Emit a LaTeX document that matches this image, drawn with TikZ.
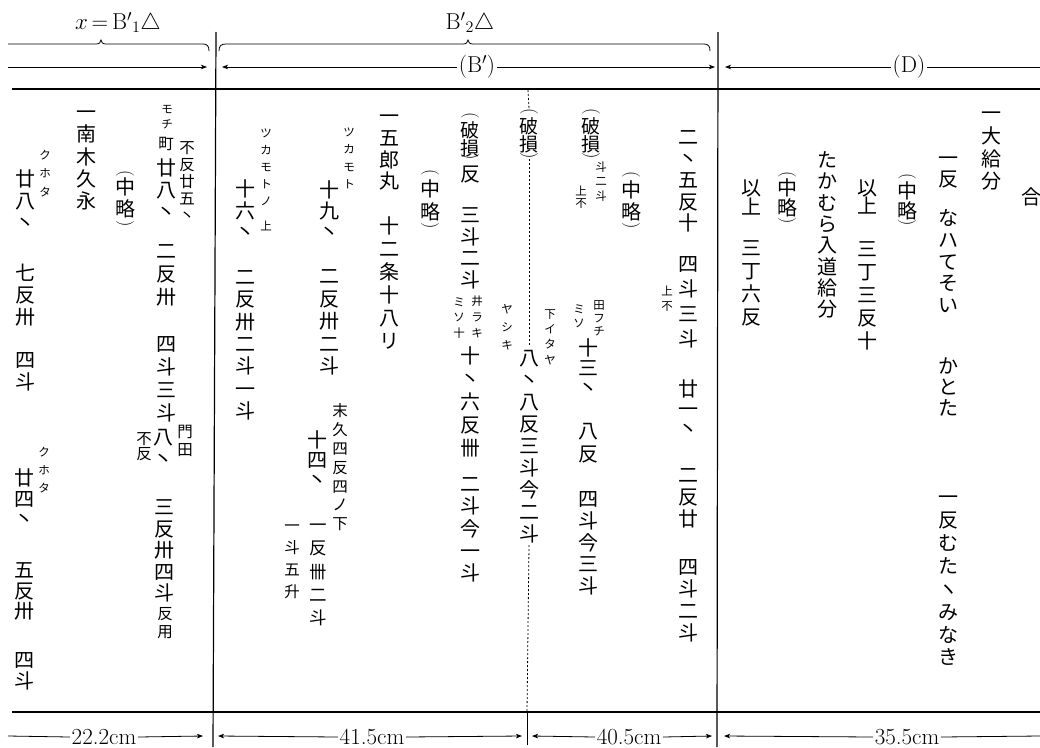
\RequirePackage{fix-cm}
\documentclass[tikz,border=0pt]{standalone}
\usepackage{fontspec}
\newfontfamily\cjk{Noto Sans CJK JP}
\usetikzlibrary{arrows.meta}
\newlength\vtp \newlength\vtf
\def\vtstop{\vtstop}
\def\vtloop#1{\ifx#1\vtstop\else\hbox to\vtf{\hss\smash{#1}\hss}\kern\vtp\expandafter\vtloop\fi}
\newcommand\vstack[3]{\vtf=#1pt\relax\vtp=#2pt\relax\vbox{\offinterlineskip\fontsize{#1}{#1}\selectfont\cjk\kern\dimexpr\vtp/2+0.38\vtf\relax\vtloop#3\vtstop\kern-\dimexpr\vtp/2+0.38\vtf\relax}}
\newcommand\vcol[6]{\node[vt] (#1) at (#2,{#3-#5/2}) {\vstack{#4}{#5}{#6}};}
\newcommand\vpo[3]{\node[par] (#1) at (#2,#3) {(};}
\newcommand\vpc[3]{\node[par] (#1) at (#2,#3) {)};}
\tikzset{
 vt/.style={anchor=north, inner sep=0pt, outer sep=0pt},
 par/.style={rotate=-90, inner sep=0pt, outer sep=0pt, font=\fontsize{18}{18}\selectfont},
 lab/.style={inner sep=1.5pt, font=\fontsize{23}{27}\selectfont},
 rule/.style={line width=1.2pt},
 arr/.style={line width=0.8pt, -{Stealth[length=6pt,width=4.5pt,inset=1.5pt]}},
 ln/.style={line width=0.8pt},
 brace/.style={line width=0.8pt},
 dot/.style={line width=0.8pt, dash pattern=on 2.2pt off 1.8pt},
}
\begin{document}
\begin{tikzpicture}[x=1pt,y=-1pt]
\useasboundingbox (0,0) rectangle (1040,747);
\fill[white] (0,0) rectangle (1040,747);
% ---- top braces and labels
\coordinate (b1L) at (8,44); \coordinate (b1R) at (209,51);
\draw[brace] (b1L) -- (96,44) .. controls (99.5,44) and (100.5,42.5) .. (101,40) .. controls (101.5,42.5) and (102.5,44) .. (106,44) -- (203,44) .. controls (207,44) and (209,46) .. (b1R);
\node[lab] (b1lab) at (118,23) {$x\,{=}\,\mathrm{B}'{}_{1}\triangle$};
\coordinate (b2L) at (219,51); \coordinate (b2R) at (710,51);
\draw[brace] (b2L) .. controls (219,46) and (221,44) .. (226,44) -- (463,44) .. controls (466.5,44) and (467.5,42.5) .. (468,40) .. controls (468.5,42.5) and (469.5,44) .. (473,44) -- (704,44) .. controls (708,44) and (710,46) .. (b2R);
\node[lab] (b2lab) at (470,23) {$\mathrm{B}'{}_{2}\triangle$};
% ---- top arrows
\coordinate (t1L) at (8,67); \coordinate (t1R) at (207,67);
\draw[arr] (t1L) -- (t1R);
\node[lab] (bp) at (477,67) {(B$'$)};
\coordinate (t2L) at (222,67); \coordinate (t2R) at (715,67);
\draw[arr] (bp.west) -- (t2L); \draw[arr] (bp.east) -- (t2R);
\node[lab] (dd) at (909,67) {(D)};
\coordinate (t3L) at (725,67); \coordinate (t3R) at (1040,67);
\draw[arr] (dd.west) -- (t3L); \draw[ln] (dd.east) -- (t3R);
% ---- rules
\coordinate (h1L) at (12,89); \coordinate (h1R) at (1040,89);
\draw[rule] (h1L) -- (h1R);
\coordinate (h2L) at (12,712); \coordinate (h2R) at (1040,712);
\draw[rule] (h2L) -- (h2R);
\coordinate (s1T) at (216,32); \coordinate (s1B) at (213,747);
\draw[rule] (s1T) -- (s1B);
\coordinate (s2T) at (718,32); \coordinate (s2B) at (717,747);
\draw[rule] (s2T) -- (s2B);
% ---- bottom arrows
\node[lab] (m1) at (104,737) {22.2cm};
\coordinate (e1L) at (8,736); \coordinate (e1R) at (203,736);
\draw[ln] (e1L) -- (m1.west); \draw[arr] (m1.east) -- (e1R);
\node[lab] (m2) at (372,737) {41.5cm};
\coordinate (e2L) at (218,736); \coordinate (e2R) at (522,736);
\draw[arr] (m2.west) -- (e2L); \draw[arr] (m2.east) -- (e2R);
\node[lab] (m3) at (629,737) {40.5cm};
\coordinate (e3L) at (532,736); \coordinate (e3R) at (712,736);
\draw[arr] (m3.west) -- (e3L); \draw[arr] (m3.east) -- (e3R);
\node[lab] (m4) at (907,737) {35.5cm};
\coordinate (e4L) at (724,736); \coordinate (e4R) at (1040,736);
\draw[arr] (m4.west) -- (e4L); \draw[ln] (m4.east) -- (e4R);
% ---- section x
\vcol{a1}{25}{179}{20}{22}{廿八丶}
\vcol{a2}{25}{273}{20}{22}{七反卅}
\vcol{a3}{25}{360}{20}{22}{四斗}
\vcol{a4}{45}{155}{11.5}{18.5}{クホタ}
\vcol{a5}{24}{478}{20}{20.5}{廿四丶}
\vcol{a6}{24}{570}{20}{20.5}{五反卅}
\vcol{a7}{24}{660}{20}{20.5}{四斗}
\vcol{a8}{44}{452}{11.5}{18}{クホタ}
\vcol{a9}{86}{112}{20}{22.3}{一南木久永}
\vpo{a10o}{125}{174} \vcol{a10}{125}{187}{20}{22}{中略} \vpc{a10c}{125}{224}
\vcol{a11}{167}{109}{11.5}{15}{モチ}
\vcol{a12}{166}{144}{15.5}{16}{町}
\vcol{a13}{187}{148}{15.5}{17}{不反廿五丶}
\vcol{a14}{166}{168}{20}{22}{廿八丶}
\vcol{a15}{166}{251}{20}{23}{二反卅}
\vcol{a16}{166}{344}{20}{23}{四斗三斗}
\vcol{a17}{163}{437}{20}{22}{八丶}
\vcol{a18}{185}{432}{15.5}{18}{門田}
\vcol{a19}{144}{439}{15.5}{15}{不反}
\vcol{a20}{164}{507}{20}{21.5}{三反卅四斗}
\vcol{a21}{165}{614}{15.5}{18}{反用}
% ---- section B' left
\vcol{b1}{266}{133}{11.5}{17}{ツカモトノ}
\vcol{b2}{266}{226}{11.5}{17}{上}
\vcol{b3}{245}{189}{20}{21.5}{十六丶}
\vcol{b4}{245}{277}{20}{22.3}{二反卅二斗一斗}
\vcol{b5}{349}{132}{11.5}{17.5}{ツカモト}
\vcol{b6}{329}{190}{20}{21}{十九丶}
\vcol{b7}{329}{276}{20}{22.5}{二反卅二斗}
\vcol{b8}{389}{116}{20}{21.7}{一五郎丸}
\vcol{b9}{389}{226}{20}{23}{十二条十八リ}
\vpo{b10o}{430}{173} \vcol{b10}{430}{189}{20}{22.5}{中略} \vpc{b10c}{430}{226}
\vpo{b11o}{470}{116} \vcol{b11}{470}{130}{19}{18.5}{破損} \vpc{b11c}{470}{157}
\vcol{b12}{470}{174}{20}{22}{反}
\vcol{b13}{470}{215}{20}{21.5}{三斗二斗}
\vcol{b14}{477}{301}{11.5}{16}{井ラキ}
\vcol{b15}{459}{302}{11.5}{15.5}{ミソ十}
\vcol{b16}{470}{356}{20}{23}{十丶六反卌}
\vcol{b17}{470}{484}{20}{22.3}{二斗今一斗}
\vcol{b18}{340}{411}{15.5}{18.8}{末久四反四ノ下}
\vcol{b19}{317}{440}{20}{20}{十四丶}
\vcol{b20}{318}{525}{17.5}{23.3}{一反卌二斗}
\vcol{b21}{292}{526}{15.5}{22}{一斗五升}
% ---- section B' right
\vpo{c1o}{529}{112} \vcol{c1}{529}{126}{19}{18.5}{破損} \vpc{c1c}{529}{156}
\vcol{c2}{529}{358}{20}{22}{八丶八反三斗今二斗}
\coordinate (dT) at (528,90); \coordinate (dB) at (527,712); \coordinate (dB2) at (527,745);
\draw[dot] (dT) -- (c1o.west);
\draw[dot] (c1c.east) -- (c2.north);
\draw[dot] (c2.south) -- (dB);
\draw[ln] (dB) -- (dB2);
\vcol{c3}{507}{309}{11.5}{18}{ヤシキ}
\vcol{c4}{550}{314}{11.5}{15.3}{下イタヤ}
\vpo{c5o}{591}{112} \vcol{c5}{591}{126}{19}{18.5}{破損} \vpc{c5c}{591}{156}
\vcol{c6}{601}{167}{11.5}{14.5}{斗二斗}
\vcol{c7}{581}{191}{11.5}{12}{上不}
\vcol{c8}{599}{305}{11.5}{13}{田フチ}
\vcol{c9}{579}{309}{11.5}{14.5}{ミソ}
\vcol{c10}{588}{348}{20}{20}{十三丶}
\vcol{c11}{588}{431}{20}{23}{八反}
\vcol{c12}{588}{499}{20}{21.7}{四斗今三斗}
\vpo{c13o}{631}{175} \vcol{c13}{631}{190}{20}{22}{中略} \vpc{c13c}{631}{226}
\vcol{c14}{688}{137}{20}{21.5}{二丶五反十}
\vcol{c15}{688}{264}{20}{25}{四斗三斗}
\vcol{c16}{667}{291}{11.5}{15}{上不}
\vcol{c17}{688}{389}{20}{20}{廿一丶}
\vcol{c18}{688}{475}{20}{22}{二反廿}
\vcol{c19}{688}{567}{20}{22}{四斗二斗}
% ---- section D
\vcol{d1}{751}{188}{20}{19}{以上}
\vcol{d2}{751}{248}{20}{23}{三丁六反}
\vpo{d3o}{787}{175} \vcol{d3}{787}{188}{20}{20}{中略} \vpc{d3c}{787}{221}
\vcol{d4}{827}{160}{20}{21.3}{たかむら入道給分}
\vcol{d5}{867}{188}{20}{18}{以上}
\vcol{d6}{867}{249}{20}{23}{三丁三反十}
\vpo{d7o}{907}{177} \vcol{d7}{907}{191}{20}{20}{中略} \vpc{d7c}{907}{223}
\vcol{d8}{948}{158}{20}{21}{一反}
\vcol{d9}{948}{218}{20}{21.7}{なハてそい}
\vcol{d10}{948}{366}{20}{21}{かとた}
\vcol{d11}{948}{497}{20}{22.9}{一反むたヽみなき}
\vcol{d12}{991}{113}{20}{22.7}{一大給分}
\vcol{d13}{1031}{197}{20}{20}{合}
\end{tikzpicture}
\end{document}
